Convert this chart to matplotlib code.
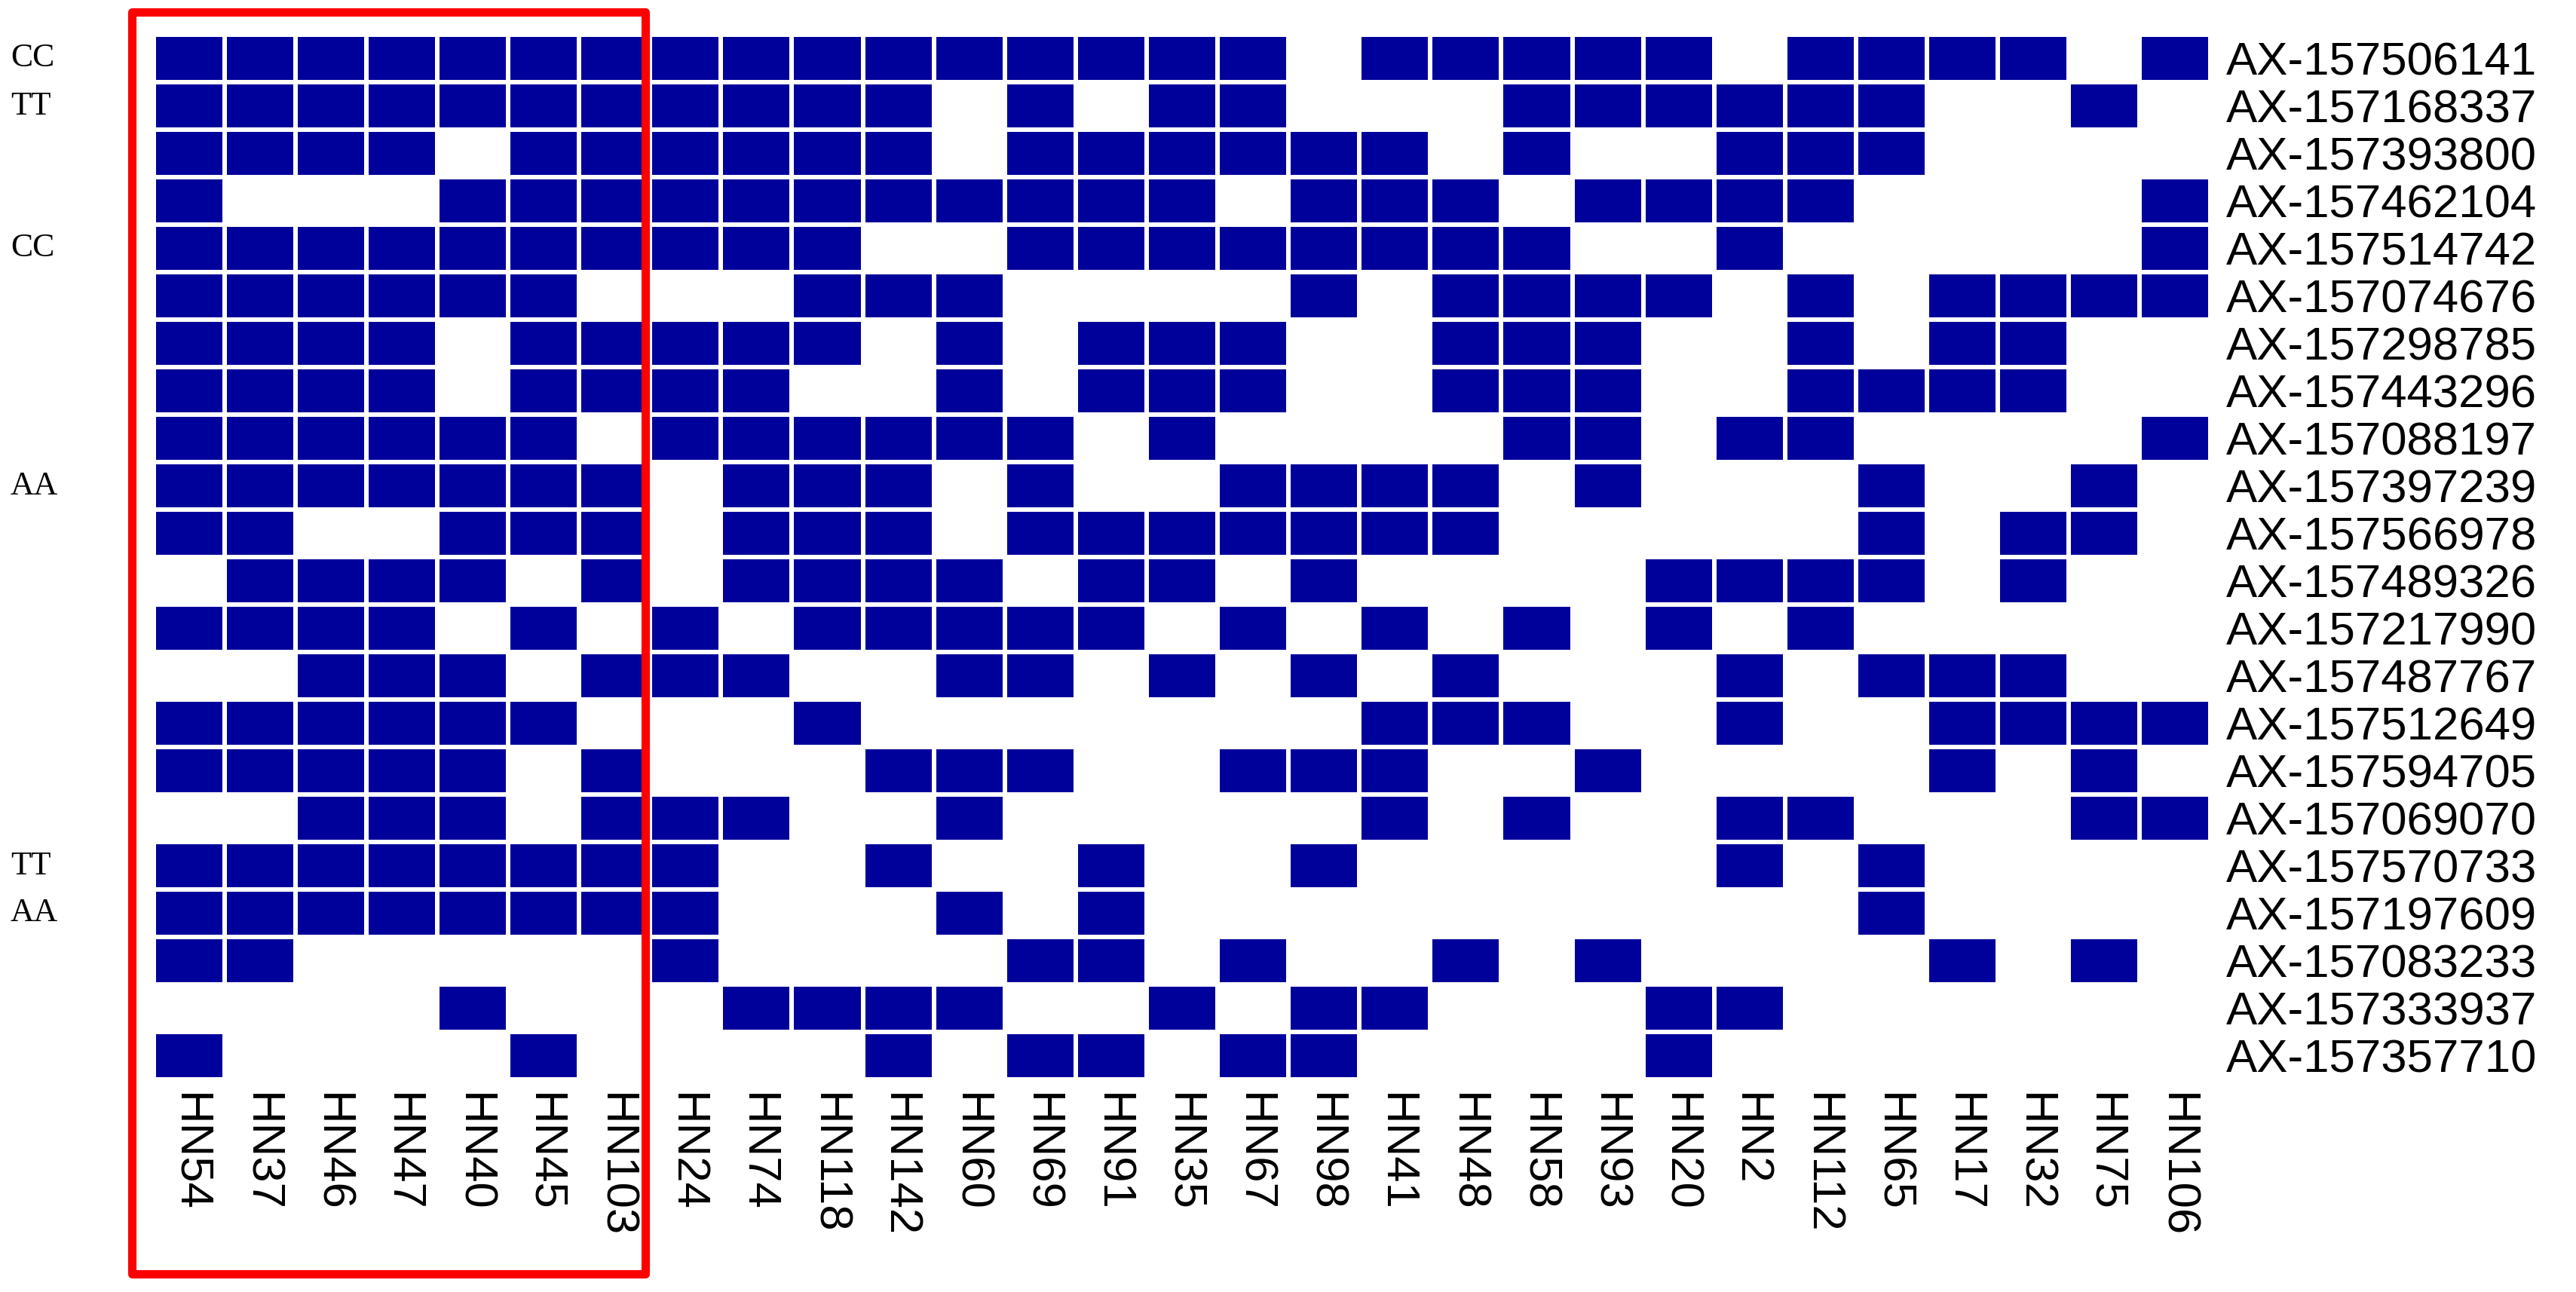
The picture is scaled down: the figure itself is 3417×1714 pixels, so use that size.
"""Marker presence grid for HN lines, first seven lines boxed in red."""
import numpy as np
import matplotlib
matplotlib.use("Agg")
import matplotlib.pyplot as plt
from matplotlib.colors import ListedColormap
from matplotlib.patches import Rectangle
from matplotlib.transforms import blended_transform_factory

samples = ["HN54", "HN37", "HN46", "HN47", "HN40", "HN45", "HN103", "HN24",
           "HN74", "HN118", "HN142", "HN60", "HN69", "HN91", "HN35", "HN67",
           "HN98", "HN41", "HN48", "HN58", "HN93", "HN20", "HN2", "HN112",
           "HN65", "HN17", "HN32", "HN75", "HN106"]

markers = ["AX-157506141", "AX-157168337", "AX-157393800", "AX-157462104",
           "AX-157514742", "AX-157074676", "AX-157298785", "AX-157443296",
           "AX-157088197", "AX-157397239", "AX-157566978", "AX-157489326",
           "AX-157217990", "AX-157487767", "AX-157512649", "AX-157594705",
           "AX-157069070", "AX-157570733", "AX-157197609", "AX-157083233",
           "AX-157333937", "AX-157357710"]

genotypes = ["CC", "TT", "", "", "CC", "", "", "", "", "AA", "", "",
             "", "", "", "", "", "TT", "AA", "", "", ""]

# one string per marker, one char per sample (1 = present)
presence = [
    "11111111111111110111110111101",
    "11111111111010110001111110010",
    "11110111111011111101001110000",
    "10001111111111101110111100001",
    "11111111110011111111001000001",
    "11111100011100001011110101111",
    "11110111110101110011100101100",
    "11110111100101110011100111100",
    "11111101111110100001101100001",
    "11111110111010011110100010010",
    "11001110111011111110000010110",
    "01111010111101101000011110100",
    "11110101011111010101010100000",
    "00111011100110101010001011100",
    "11111100010000000111001001111",
    "11111010001110011100100001010",
    "00111011100100000101001100011",
    "11111111001001001000001010000",
    "11111111000101000000000010000",
    "11000001000011010010100001010",
    "00001000111100101100011000000",
    "10000100001011011000010000000",
]

n_boxed = 7  # first lines highlighted

grid = np.array([[int(ch) for ch in row] for row in presence])
nrow, ncol = grid.shape

W, H = 3417, 1714
fig = plt.figure(figsize=(W / 100, H / 100), dpi=100)
x0, x1 = 203.5, 2932.5
y0, y1 = 46, 1432
ax = fig.add_axes([x0 / W, 1 - y1 / H, (x1 - x0) / W, (y1 - y0) / H])

cmap = ListedColormap(["white", "#00009a"])
ax.pcolormesh(np.arange(ncol + 1), np.arange(nrow + 1), grid, cmap=cmap,
              vmin=0, vmax=1, edgecolors="white", linewidth=3.2)
ax.set_xlim(0, ncol)
ax.set_ylim(nrow, 0)
for s in ax.spines.values():
    s.set_visible(False)

ax.set_xticks(np.arange(ncol) + 0.5)
ax.set_xticklabels(samples, rotation=270, fontsize=44.5,
                   family="Liberation Sans")
ax.tick_params(axis="x", length=0, pad=13)

ax.yaxis.tick_right()
ax.set_yticks(np.arange(nrow) + 0.5)
ax.set_yticklabels(markers, fontsize=44.5, family="Liberation Sans")
ax.tick_params(axis="y", length=0, pad=15)

trans = blended_transform_factory(fig.transFigure, ax.transData)
for i, g in enumerate(genotypes):
    if g:
        ax.text(14 / W, i + 0.5, g, transform=trans, fontsize=31.5,
                family="Liberation Serif", ha="left", va="center")

# red box round the first lines
box = Rectangle((-0.3, -0.48), n_boxed - 0.07 + 0.3, 26.58, fill=False,
                edgecolor="#ff0000", linewidth=8, joinstyle="round",
                clip_on=False)
ax.add_patch(box)

fig.savefig("out.png", dpi=100, facecolor="white")
